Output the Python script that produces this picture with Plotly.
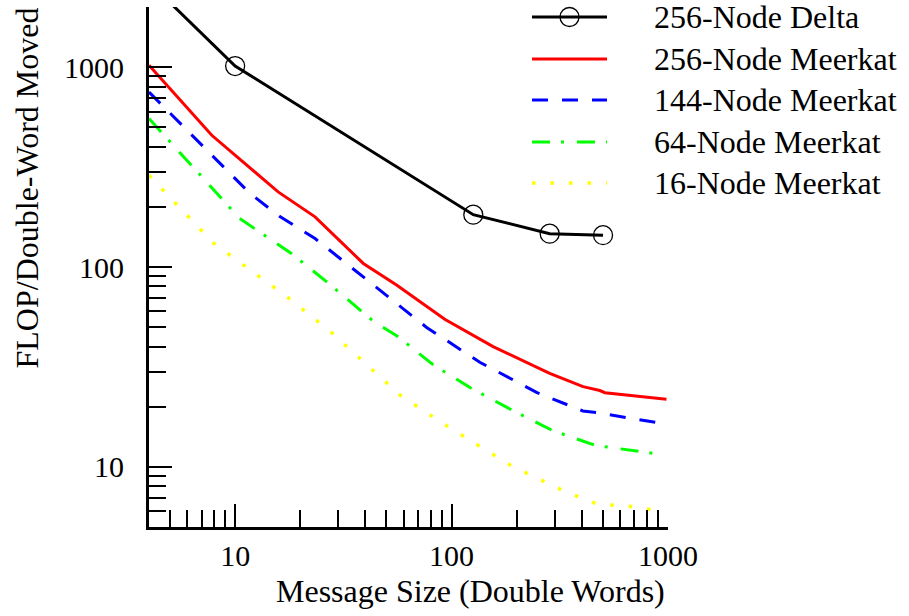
import numpy as np
import plotly.graph_objects as go

# ---- data ----
delta_x = [4, 10, 126, 284, 501]
delta_y = [2670, 1015, 183, 147, 144.5]

m256_x = [4, 7.8, 15.8, 23.4, 39.1, 55.7, 93, 155.6, 284, 405, 484, 511, 984]
m256_y = [1023, 457, 238, 178.5, 104.3, 81.3, 54.8, 40, 29.4, 25.2, 24.1, 23.5, 21.8]

m144_x = [4, 11.7, 16.1, 23.4, 76.7, 135, 247, 404, 468, 1000]
m144_y = [752, 234, 179, 139, 49.9, 33.4, 23.6, 19.05, 18.7, 16.3]

m64_x = [4, 10.5, 18.2, 26.5, 43.2, 56.7, 82.3, 123.7, 189, 293, 463, 741, 900]
m64_y = [554, 175, 117, 84.4, 53.9, 44.8, 32.4, 24.7, 19.3, 15.2, 12.8, 12.0, 11.6]

m16_x = [4, 7.93, 17.6, 27.9, 58.2, 95.4, 188, 322, 466, 679, 850]
m16_y = [288, 132, 70.2, 47, 22.7, 16.0, 10.15, 7.67, 6.53, 6.33, 6.1]

series_names = ["256-Node Delta", "256-Node Meerkat", "144-Node Meerkat",
                "64-Node Meerkat", "16-Node Meerkat"]

x_tickvals = [10, 100, 1000]
x_ticktext = ["10", "100", "1000"]
x_minor = [4, 5, 6, 7, 8, 9, 20, 30, 40, 50, 60, 70, 80, 90,
           200, 300, 400, 500, 600, 700, 800, 900]
y_tickvals = [10, 100, 1000]
y_ticktext = ["10", "100", "1000"]
y_minor = [5, 6, 7, 8, 9, 20, 30, 40, 50, 60, 70, 80, 90,
           200, 300, 400, 500, 600, 700, 800, 900, 2000]

x_title = "Message Size (Double Words)"
y_title = "FLOP/Double-Word Moved"

FONT = "Liberation Serif, Times New Roman, serif"

# ---- styles ----
styles = [
    dict(color="black", width=3, dash="solid"),
    dict(color="#ff0000", width=3, dash="solid"),
    dict(color="#0000ff", width=3, dash="16px,14px"),
    dict(color="#00ff00", width=3, dash="18px,11px,3px,13px"),
    dict(color="#ffff00", width=3.5, dash="3.5px,15px"),
]

fig = go.Figure()
fig.add_trace(go.Scatter(x=delta_x, y=delta_y, mode="lines+markers",
                         name=series_names[0], line=styles[0],
                         marker=dict(symbol="circle-open", size=19,
                                     color="black", line=dict(width=1.3))))
for nm, xs, ys, st in zip(series_names[1:], [m256_x, m144_x, m64_x, m16_x],
                          [m256_y, m144_y, m64_y, m16_y], styles[1:]):
    fig.add_trace(go.Scatter(x=xs, y=ys, mode="lines", name=nm, line=st))

# ---- plot area geometry (pixels) ----
L, R, T, B = 149, 668, 7, 527
W, H = 909, 616
pw, ph = R - L, B - T


def px_x(px):
    return (px - L) / pw


def px_y(py):
    return (B - py) / ph


# ---- custom legend (long line samples like the reference) ----
rows_y = [17, 59, 100, 142, 183]
shapes = []
annotations = []
for i, (nm, st) in enumerate(zip(series_names, styles)):
    yp = px_y(rows_y[i])
    shapes.append(dict(type="line", xref="paper", yref="paper",
                       x0=px_x(532), x1=px_x(607), y0=yp, y1=yp,
                       line=dict(color=st["color"], width=st["width"], dash=st["dash"])))
    annotations.append(dict(text=nm, xref="paper", yref="paper",
                            x=px_x(652), y=yp, xanchor="left", yanchor="middle",
                            showarrow=False,
                            font=dict(family=FONT, size=32, color="black")))
# circle marker on Delta legend sample
shapes.append(dict(type="circle", xref="paper", yref="paper",
                   xsizemode="pixel", ysizemode="pixel",
                   xanchor=px_x(569.5), yanchor=px_y(rows_y[0]),
                   x0=-9.5, x1=9.5, y0=-9.5, y1=9.5,
                   line=dict(color="black", width=1.3), fillcolor="rgba(0,0,0,0)"))

# axis titles as annotations (positioned like the reference)
annotations.append(dict(text=x_title, xref="paper", yref="paper",
                        x=px_x(470), y=px_y(591), xanchor="center", yanchor="middle",
                        showarrow=False, font=dict(family=FONT, size=32, color="black")))
annotations.append(dict(text=y_title, xref="paper", yref="paper", textangle=-90,
                        x=px_x(26), y=px_y(188.5), xanchor="center", yanchor="middle",
                        showarrow=False, font=dict(family=FONT, size=32, color="black")))

axis_common = dict(
    type="log", showgrid=False, zeroline=False,
    showline=True, linewidth=3, linecolor="black",
    ticks="inside", ticklen=23, tickwidth=2, tickcolor="black",
    tickmode="array",
    tickfont=dict(family=FONT, size=30, color="black"),
)

fig.update_layout(
    width=W, height=H,
    margin=dict(l=L, r=W - R, t=T, b=H - B, pad=0),
    paper_bgcolor="white", plot_bgcolor="white",
    showlegend=False,
    shapes=shapes, annotations=annotations,
    font=dict(family=FONT, color="black"),
)
fig.update_xaxes(**axis_common, range=[np.log10(4), 3],
                 tickvals=x_tickvals, ticktext=x_ticktext,
                 ticklabelstandoff=0,
                 minor=dict(ticks="inside", ticklen=17, tickwidth=2,
                            tickcolor="black", tickvals=x_minor, showgrid=False))
fig.update_yaxes(**axis_common, range=[np.log10(5), np.log10(2000) + 0.001],
                 tickvals=y_tickvals, ticktext=y_ticktext,
                 ticklabelstandoff=16,
                 minor=dict(ticks="inside", ticklen=17, tickwidth=2,
                            tickcolor="black", tickvals=y_minor, showgrid=False))

fig.write_html("out.html",
               config={"displayModeBar": False},
               post_script="document.body.style.margin='0';document.body.style.padding='0';")
